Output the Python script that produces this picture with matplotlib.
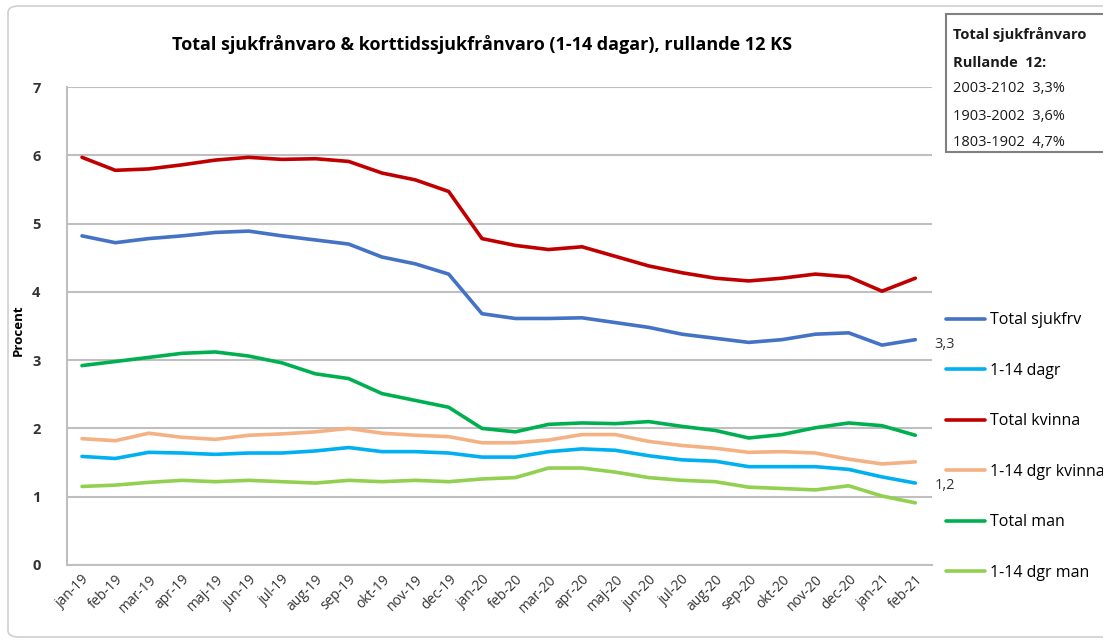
import matplotlib.pyplot as plt
from matplotlib.patches import FancyBboxPatch, Rectangle

plt.rcParams['font.family'] = ['Open Sans', 'DejaVu Sans']

months = ['jan-19', 'feb-19', 'mar-19', 'apr-19', 'maj-19', 'jun-19', 'jul-19',
          'aug-19', 'sep-19', 'okt-19', 'nov-19', 'dec-19', 'jan-20', 'feb-20',
          'mar-20', 'apr-20', 'maj-20', 'jun-20', 'jul-20', 'aug-20', 'sep-20',
          'okt-20', 'nov-20', 'dec-20', 'jan-21', 'feb-21']

total_sjukfrv = [4.82, 4.72, 4.78, 4.82, 4.87, 4.89, 4.82, 4.76, 4.70, 4.51, 4.41, 4.26,
                 3.68, 3.61, 3.61, 3.62, 3.55, 3.48, 3.38, 3.32, 3.26, 3.30, 3.38, 3.40,
                 3.22, 3.30]
dagr_1_14 = [1.59, 1.56, 1.65, 1.64, 1.62, 1.64, 1.64, 1.67, 1.72, 1.66, 1.66, 1.64,
             1.58, 1.58, 1.66, 1.70, 1.68, 1.60, 1.54, 1.52, 1.44, 1.44, 1.44, 1.40,
             1.29, 1.20]
total_kvinna = [5.97, 5.78, 5.80, 5.86, 5.93, 5.97, 5.94, 5.95, 5.91, 5.74, 5.64, 5.47,
                4.78, 4.68, 4.62, 4.66, 4.52, 4.38, 4.28, 4.20, 4.16, 4.20, 4.26, 4.22,
                4.01, 4.20]
dgr_kvinna = [1.85, 1.82, 1.93, 1.87, 1.84, 1.90, 1.92, 1.95, 2.00, 1.93, 1.90, 1.88,
              1.79, 1.79, 1.83, 1.91, 1.91, 1.81, 1.75, 1.71, 1.65, 1.66, 1.64, 1.55,
              1.48, 1.51]
total_man = [2.92, 2.98, 3.04, 3.10, 3.12, 3.06, 2.96, 2.80, 2.73, 2.51, 2.41, 2.31,
             2.00, 1.95, 2.06, 2.08, 2.07, 2.10, 2.03, 1.97, 1.86, 1.91, 2.01, 2.08,
             2.04, 1.90]
dgr_man = [1.15, 1.17, 1.21, 1.24, 1.22, 1.24, 1.22, 1.20, 1.24, 1.22, 1.24, 1.22,
           1.26, 1.28, 1.42, 1.42, 1.36, 1.28, 1.24, 1.22, 1.14, 1.12, 1.10, 1.16,
           1.01, 0.91]

series = [
    ('Total sjukfrv', total_sjukfrv, '#4472C4'),
    ('1-14 dagr', dagr_1_14, '#00B0F0'),
    ('Total kvinna', total_kvinna, '#C00000'),
    ('1-14 dgr kvinna', dgr_kvinna, '#F4B183'),
    ('Total man', total_man, '#00B050'),
    ('1-14 dgr man', dgr_man, '#92D050'),
]

box_lines = ['Total sjukfrånvaro', 'Rullande  12:', '2003-2102  3,3%',
             '1903-2002  3,6%', '1803-1902  4,7%']

W, H = 1103, 643
fig = plt.figure(figsize=(W / 100, H / 100), dpi=100)

# outer chart border
fig.patches.append(FancyBboxPatch((8 / W, 6 / H), 1.2, (H - 12) / H,
                                  boxstyle='round,pad=0,rounding_size=0.01',
                                  transform=fig.transFigure, fill=False,
                                  edgecolor='#D0D0D0', lw=1.2))

ax = fig.add_axes([67 / W, 1 - 565 / H, (932 - 67) / W, (565 - 87) / H])
x = list(range(len(months)))
for label, vals, color in series:
    ax.plot(x, vals, color=color, lw=2.6, label=label, solid_capstyle='round')

ax.set_xlim(-0.45, len(months) - 0.5)
ax.set_ylim(0, 7)
ax.set_yticks(range(0, 8))
ax.yaxis.grid(True, color='#BFBFBF', lw=1.5)
ax.set_axisbelow(True)
for s in ['top', 'right']:
    ax.spines[s].set_visible(False)
ax.spines['left'].set_color('#BFBFBF')
ax.spines['bottom'].set_color('#BFBFBF')
ax.spines['left'].set_linewidth(1.5)
ax.spines['bottom'].set_linewidth(1.5)
ax.tick_params(axis='y', length=0, pad=19, labelsize=10.5, labelcolor='#333333')
ax.tick_params(axis='x', length=0, pad=5, labelsize=10, labelcolor='#333333')
ax.set_xticks(x)
ax.set_xticklabels(months, rotation=45, ha='right', rotation_mode='anchor')
for lbl in ax.get_yticklabels():
    lbl.set_fontweight('bold')

fig.text(18 / W, 1 - 330 / H, 'Procent', rotation=90, ha='center', va='center',
         fontsize=9.5, fontweight='bold')

ax.annotate('3,3', (x[-1], total_sjukfrv[-1]), xytext=(14, -6),
            textcoords='offset points', fontsize=10.5, color='#333333')
ax.annotate('1,2', (x[-1], dagr_1_14[-1]), xytext=(14, -4),
            textcoords='offset points', fontsize=10.5, color='#333333')

fig.text(482 / W, 1 - 45 / H,
         'Total sjukfrånvaro & korttidssjukfrånvaro (1-14 dagar), rullande 12 KS',
         ha='center', va='center', fontsize=13, fontweight='bold')

fig.legend(loc='upper left', bbox_to_anchor=(940 / W, 1 - 306 / H),
           frameon=False, fontsize=11.5, labelspacing=2.16, handlelength=2.4,
           handletextpad=0.3, borderaxespad=0)

# info box top right
fig.patches.append(Rectangle((946 / W, 1 - 152 / H), 0.2, (152 - 14) / H,
                             transform=fig.transFigure, fill=True,
                             facecolor='white', edgecolor='#808080', lw=1.5))
ys = [34, 63, 89, 116, 142]
for i, (t, yy) in enumerate(zip(box_lines, ys)):
    fig.text(953 / W, 1 - yy / H, t, ha='left', va='center', fontsize=10.5,
             fontweight='bold' if i < 2 else 'normal', color='#1a1a1a')

fig.savefig('out.png', dpi=100)
